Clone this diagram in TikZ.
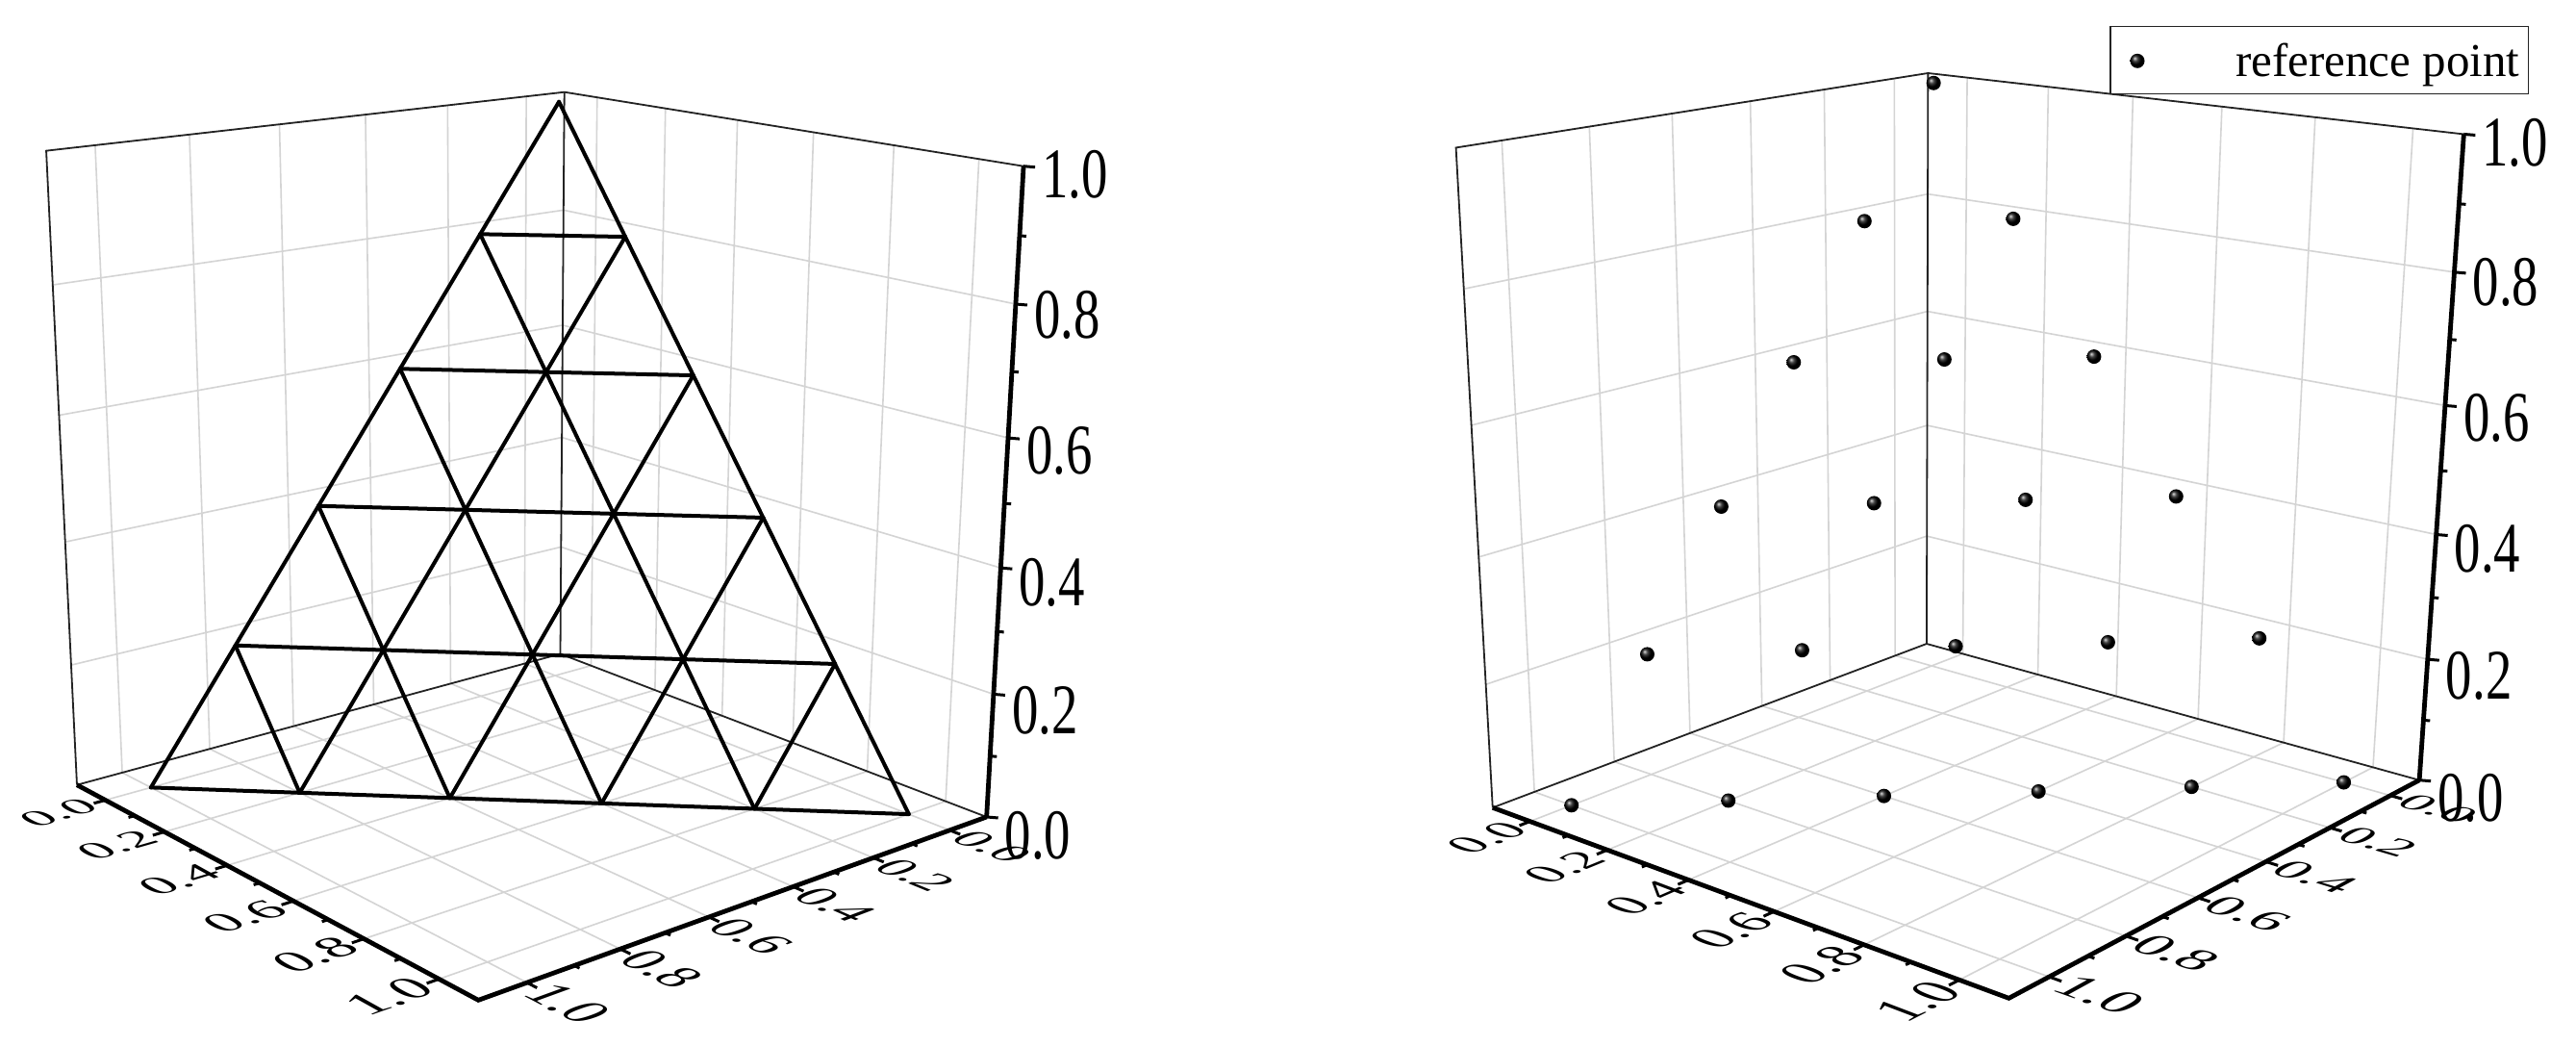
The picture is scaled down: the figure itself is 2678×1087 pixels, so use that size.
\documentclass[tikz,border=0pt]{standalone}
\usepackage{fontspec}
\setmainfont{Liberation Serif}
\usepackage{graphicx}
\usetikzlibrary{calc}
\definecolor{gridgray}{RGB}{212,212,212}
\definecolor{framegray}{RGB}{35,35,35}

% perspective projection of (a,b,z); a,b in [-0.1,1.1], z in [0,1]
\newcommand{\proj}[3]{%
  \pgfmathsetmacro\pjsa{((#1)+0.1)/1.2}%
  \pgfmathsetmacro\pjsb{((#2)+0.1)/1.2}%
  \pgfmathsetmacro\pjcO{1-\pjsa-\pjsb-(#3)}%
  \pgfmathsetmacro\pjcR{\pjsa*\pjwR}%
  \pgfmathsetmacro\pjcL{\pjsb*\pjwL}%
  \pgfmathsetmacro\pjcZ{(#3)*\pjwZ}%
  \pgfmathsetmacro\pjcW{\pjcO+\pjcR+\pjcL+\pjcZ}%
  \pgfmathsetmacro\pjU{(\pjcO*\pjOu+\pjcR*\pjRu+\pjcL*\pjLu+\pjcZ*\pjZu)/\pjcW}%
  \pgfmathsetmacro\pjV{(\pjcO*\pjOv+\pjcR*\pjRv+\pjcL*\pjLv+\pjcZ*\pjZv)/\pjcW}%
}
\newcommand{\pcoord}[4]{\proj{#2}{#3}{#4}\coordinate (#1) at (\pjU,\pjV);}

\newcommand{\panelA}{%
  \def\pjOu{582.5}\def\pjOv{679.5}%
  \def\pjLu{80}\def\pjLv{815.7}%
  \def\pjRu{1025.7}\def\pjRv{849}%
  \def\pjZu{586.7}\def\pjZv{95.7}%
  \def\pjwL{0.8803}\def\pjwR{0.8564}\def\pjwZ{0.94}}
\newcommand{\panelB}{%
  \def\pjOu{2002.9}\def\pjOv{669}%
  \def\pjLu{1551.8}\def\pjLv{839.3}%
  \def\pjRu{2515.1}\def\pjRv{810.7}%
  \def\pjZu{2004.5}\def\pjZv{76}%
  \def\pjwL{0.8567}\def\pjwR{0.8768}\def\pjwZ{0.93}}

\newcommand{\flfont}{\fontsize{10}{12}\selectfont}
\newcommand{\zfont}{\fontsize{74}{80}\selectfont}
\def\flk{1.12}

% floor label: center (a,b), baseline dir (da,db), up dir (da,db), text
\newcommand{\flab}[7]{%
  \proj{#1}{#2}{0}\let\flqu\pjU\let\flqv\pjV
  \proj{(#1)+0.01*(#3)}{(#2)+0.01*(#4)}{0}\let\flbu\pjU\let\flbv\pjV
  \proj{(#1)+0.01*(#5)}{(#2)+0.01*(#6)}{0}\let\fluu\pjU\let\fluv\pjV
  \pgfmathsetmacro\flA{(\flbu-\flqu)*\flk}%
  \pgfmathsetmacro\flB{-(\flbv-\flqv)*\flk}%
  \pgfmathsetmacro\flC{(\fluu-\flqu)*\flk}%
  \pgfmathsetmacro\flD{-(\fluv-\flqv)*\flk}%
  \begin{scope}[shift={(\flqu,\flqv)}, cm={\flA,\flB,\flC,\flD,(0,0)}]
    \node[transform shape, font=\flfont, inner sep=0pt] at (0,0) {#7};
  \end{scope}
}

\newcommand{\drawbox}{%
  \foreach \vv in {0,0.2,0.4,0.6,0.8,1}{%
    \pcoord{g1}{\vv}{-0.1}{0}\pcoord{g2}{\vv}{1.1}{0}\pcoord{g3}{\vv}{-0.1}{1}%
    \draw[gridln] (g2)--(g1)--(g3);
    \pcoord{h1}{-0.1}{\vv}{0}\pcoord{h2}{1.1}{\vv}{0}\pcoord{h3}{-0.1}{\vv}{1}%
    \draw[gridln] (h2)--(h1)--(h3);
  }
  \foreach \vv in {0.2,0.4,0.6,0.8}{%
    \pcoord{g1}{-0.1}{1.1}{\vv}\pcoord{g2}{-0.1}{-0.1}{\vv}\pcoord{g3}{1.1}{-0.1}{\vv}%
    \draw[gridln] (g1)--(g2)--(g3);
  }
  \pcoord{O}{-0.1}{-0.1}{0}\pcoord{L}{-0.1}{1.1}{0}\pcoord{R}{1.1}{-0.1}{0}\pcoord{F}{1.1}{1.1}{0}
  \pcoord{BT}{-0.1}{-0.1}{1}\pcoord{LT}{-0.1}{1.1}{1}\pcoord{RT}{1.1}{-0.1}{1}
  \draw[frameln] (L)--(O)--(R);
  \draw[frameln] (O)--(BT);
  \draw[frameln] (L)--(LT)--(BT)--(RT);
  % ticks
  \foreach \vv in {0.0,0.2,0.4,0.6,0.8,1.0}{%
    \pcoord{k1}{\vv}{1.1}{0}\pcoord{k2}{\vv}{1.125}{0}\draw[tickln] (k1)--(k2);
    \pcoord{k1}{1.1}{\vv}{0}\pcoord{k2}{1.125}{\vv}{0}\draw[tickln] (k1)--(k2);
    \pcoord{k1}{1.1}{-0.1}{\vv}\draw[tickln] (k1)--++(12,1);
  }
  \foreach \vv in {0.1,0.3,0.5,0.7,0.9}{%
    \pcoord{k1}{\vv}{1.1}{0}\pcoord{k2}{\vv}{1.113}{0}\draw[tickln] (k1)--(k2);
    \pcoord{k1}{1.1}{\vv}{0}\pcoord{k2}{1.113}{\vv}{0}\draw[tickln] (k1)--(k2);
    \pcoord{k1}{1.1}{-0.1}{\vv}\draw[tickln] (k1)--++(7,0.6);
  }
  \draw[axisln] (L)--(F)--(R);
  \draw[axisln] (R)--(RT);
  % labels
  \foreach \vv in {0.0,0.2,0.4,0.6,0.8,1.0}{%
    \flab{\vv}{1.2}{0}{-1}{-1}{0}{\vv}
    \flab{1.2}{\vv}{1}{0}{0}{-1}{\vv}
    \pcoord{k1}{1.1}{-0.1}{\vv}%
    \pgfmathsetmacro\zoff{9+10*(1-\vv)}%
    \node[anchor=west, font=\zfont, inner sep=0pt] at ($(k1)+(19,\zoff)$) {\scalebox{0.74}[1]{\vv}};
  }
}

\begin{document}
\begin{tikzpicture}[x=1pt,y=-1pt,
  gridln/.style={draw=gridgray, line width=1.6pt},
  frameln/.style={draw=framegray, line width=1.8pt},
  axisln/.style={draw=black, line width=4.8pt, line join=miter},
  tickln/.style={draw=black, line width=3pt},
  meshln/.style={draw=black, line width=4pt, line cap=round, line join=round},
  ball/.style={ball color=black}]
\useasboundingbox (0,0) rectangle (2678,1087);
\fill[white] (0,0) rectangle (2678,1087);

% ---------- left panel ----------
\panelA
\drawbox
\foreach \k in {0,...,4}{%
  \pcoord{m1}{1-\k/5}{0}{\k/5}\pcoord{m2}{0}{1-\k/5}{\k/5}\draw[meshln] (m1)--(m2);
  \pcoord{m1}{\k/5}{1-\k/5}{0}\pcoord{m2}{\k/5}{0}{1-\k/5}\draw[meshln] (m1)--(m2);
  \pcoord{m1}{1-\k/5}{\k/5}{0}\pcoord{m2}{0}{\k/5}{1-\k/5}\draw[meshln] (m1)--(m2);
}

% ---------- right panel ----------
\panelB
\drawbox
\foreach \i in {0,...,5}{%
  \foreach \j in {0,...,5}{%
    \pgfmathtruncatemacro\kk{5-\i-\j}%
    \ifnum\kk<0\relax\else
      \pcoord{pt}{\i/5}{\j/5}{\kk/5}%
      \shade[ball] (pt) circle (7.5pt);
    \fi
  }
}

% legend
\draw[line width=1.5pt, draw=framegray] (2194,27.3) rectangle (2628.6,97.3);
\coordinate (legmark) at (2222,63.3);
\shade[ball] (legmark) circle (7.5pt);
\node[anchor=base west, font=\fontsize{49}{58}\selectfont, inner sep=0pt] (legtext) at (2324,79.3) {reference point};
\end{tikzpicture}
\end{document}
